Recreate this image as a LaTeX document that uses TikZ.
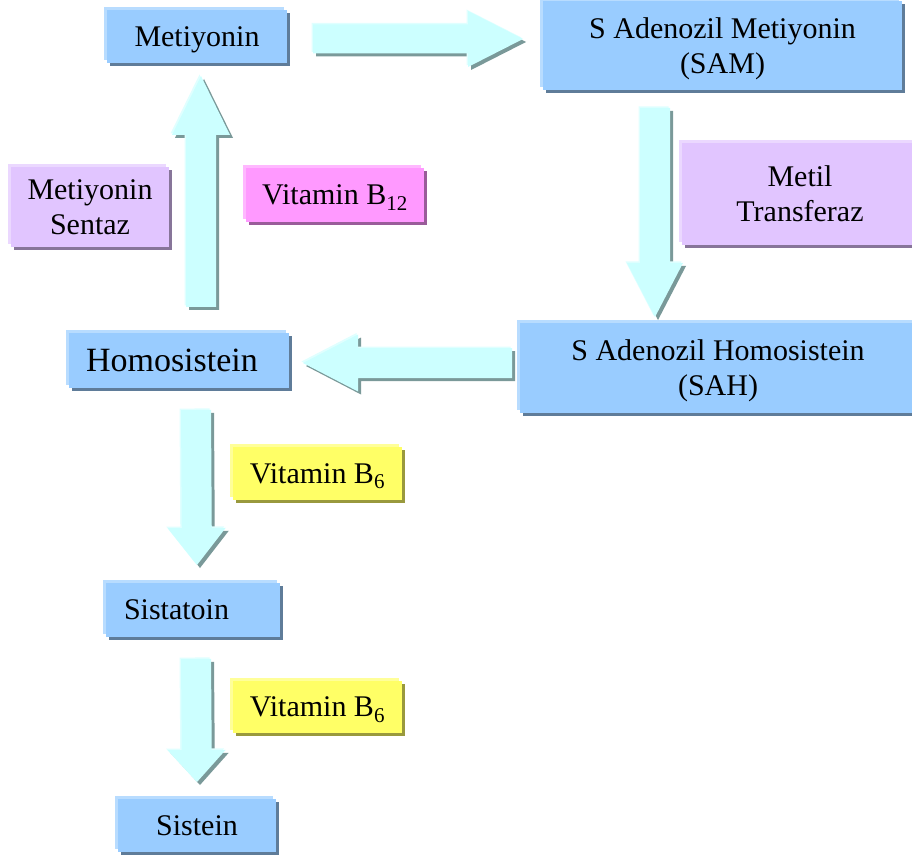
\documentclass[tikz,border=0pt]{standalone}
\usepackage{fontspec}
\setmainfont{Liberation Serif}
\usetikzlibrary{calc,shadows}
\definecolor{bfill}{HTML}{99CCFF}
\definecolor{bshadow}{HTML}{5F7C99}
\definecolor{bhigh}{HTML}{B8DCFF}
\definecolor{pfill}{HTML}{FF99FF}
\definecolor{pshadow}{HTML}{995C99}
\definecolor{phigh}{HTML}{FFB8FF}
\definecolor{lfill}{HTML}{E1C5FF}
\definecolor{lshadow}{HTML}{877599}
\definecolor{lhigh}{HTML}{EBD8FF}
\definecolor{yfill}{HTML}{FFFF66}
\definecolor{yshadow}{HTML}{99993D}
\definecolor{yhigh}{HTML}{FFFF99}
\definecolor{afill}{HTML}{CCFFFF}
\definecolor{ashadow}{HTML}{7A9999}
\definecolor{ahigh}{HTML}{E0FFFF}
\tikzset{
  box/.style={rectangle, inner sep=0pt, align=center, text=black, text depth=0pt},
  shadowed/.style n args={3}{box, fill=#1,
     general shadow={shadow xshift=3pt, shadow yshift=-3pt, fill=#2},
     general shadow={shadow xshift=-3pt, shadow yshift=3pt, fill=#3}},
  bluebox/.style={shadowed={bfill}{bshadow}{bhigh}},
  pinkbox/.style={shadowed={pfill}{pshadow}{phigh}},
  lavbox/.style={shadowed={lfill}{lshadow}{lhigh}},
  yelbox/.style={shadowed={yfill}{yshadow}{yhigh}},
  arrshadow/.style={fill=ashadow, transform canvas={shift={(3pt,-3pt)}}},
  arrhigh/.style={fill=ahigh, transform canvas={shift={(-1.5pt,1.5pt)}}},
  arrbody/.style={fill=afill}
}
\newcommand\arrfill[5]{%
  \fill[#1] ($(#2)!#4!90:(#3)$) -- ($(hb)!#4!90:(#3)$) -- ($(hb)!#5!90:(#3)$) -- (#3)
    -- ($(hb)!#5!-90:(#3)$) -- ($(hb)!#4!-90:(#3)$) -- ($(#2)!#4!-90:(#3)$) -- cycle;}
\newcommand\blockarrow[5]{%
  \coordinate (hb) at ($(#2)!#5!(#1)$);
  \arrfill{arrshadow}{#1}{#2}{#3}{#4}
  \arrfill{arrhigh}{#1}{#2}{#3}{#4}
  \arrfill{arrbody}{#1}{#2}{#3}{#4}}
\begin{document}
\begin{tikzpicture}[x=1pt,y=-1pt,font=\fontsize{30}{35}\selectfont]
\useasboundingbox (0,0) rectangle (912,858);
\clip (0,0) rectangle (912,858);
\fill[white] (0,0) rectangle (912,858);

% boxes
\node[bluebox, minimum width=180pt, minimum height=53pt] (met) at (197,36.5) {Metiyonin};
\node[bluebox, minimum width=359pt, minimum height=89pt] (sam) at (722.5,45.5) {S Adenozil Metiyonin\\(SAM)};
\node[lavbox, minimum width=236pt, minimum height=102pt] (metil) at (800,194) {Metil\\Transferaz};
\node[bluebox, minimum width=396pt, minimum height=90pt] (sah) at (718,368) {S Adenozil Homosistein\\(SAH)};
\node[bluebox, minimum height=55pt, text width=186pt, inner xsep=17pt, align=left,
      font=\fontsize{34}{40}\selectfont] (hom) at (179,360.5) {Homosistein};
\node[bluebox, minimum height=54pt, text width=138pt, inner xsep=18pt, align=left] (sist) at (193,610) {Sistatoin};
\node[bluebox, minimum width=158pt, minimum height=53pt] (sistein) at (197,825.5) {Sistein};
\node[yelbox, minimum width=169pt, minimum height=53pt] (vba) at (317.5,473.5) {Vitamin B\textsubscript{6}};
\node[yelbox, minimum width=169pt, minimum height=52pt] (vbb) at (317.5,707) {Vitamin B\textsubscript{6}};
\node[pinkbox, minimum width=178pt, minimum height=54pt] (vbc) at (335,195) {Vitamin B\textsubscript{12}};
\node[lavbox, minimum width=158pt, minimum height=80pt] (ms) at (90,207) {Metiyonin\\Sentaz};

% arrow ends
\coordinate (a1s) at (201,307); \coordinate (a1e) at (201,76);
\coordinate (a2s) at (313,39);  \coordinate (a2e) at (523,39);
\coordinate (a3s) at (655,108); \coordinate (a3e) at (655,317);
\coordinate (a4s) at (512,363); \coordinate (a4e) at (303,363);
\coordinate (a5s) at (196,410); \coordinate (a5e) at (197,565);
\coordinate (a6s) at (196,659); \coordinate (a6e) at (197,782);

\blockarrow{a1s}{a1e}{15pt}{29pt}{59pt}
\blockarrow{a2s}{a2e}{14.5pt}{28pt}{55pt}
\blockarrow{a3s}{a3e}{15pt}{28pt}{54pt}
\blockarrow{a4s}{a4e}{15pt}{28.5pt}{55pt}
\blockarrow{a5s}{a5e}{15pt}{29pt}{37pt}
\blockarrow{a6s}{a6e}{15pt}{29pt}{32pt}
\end{tikzpicture}
\end{document}
